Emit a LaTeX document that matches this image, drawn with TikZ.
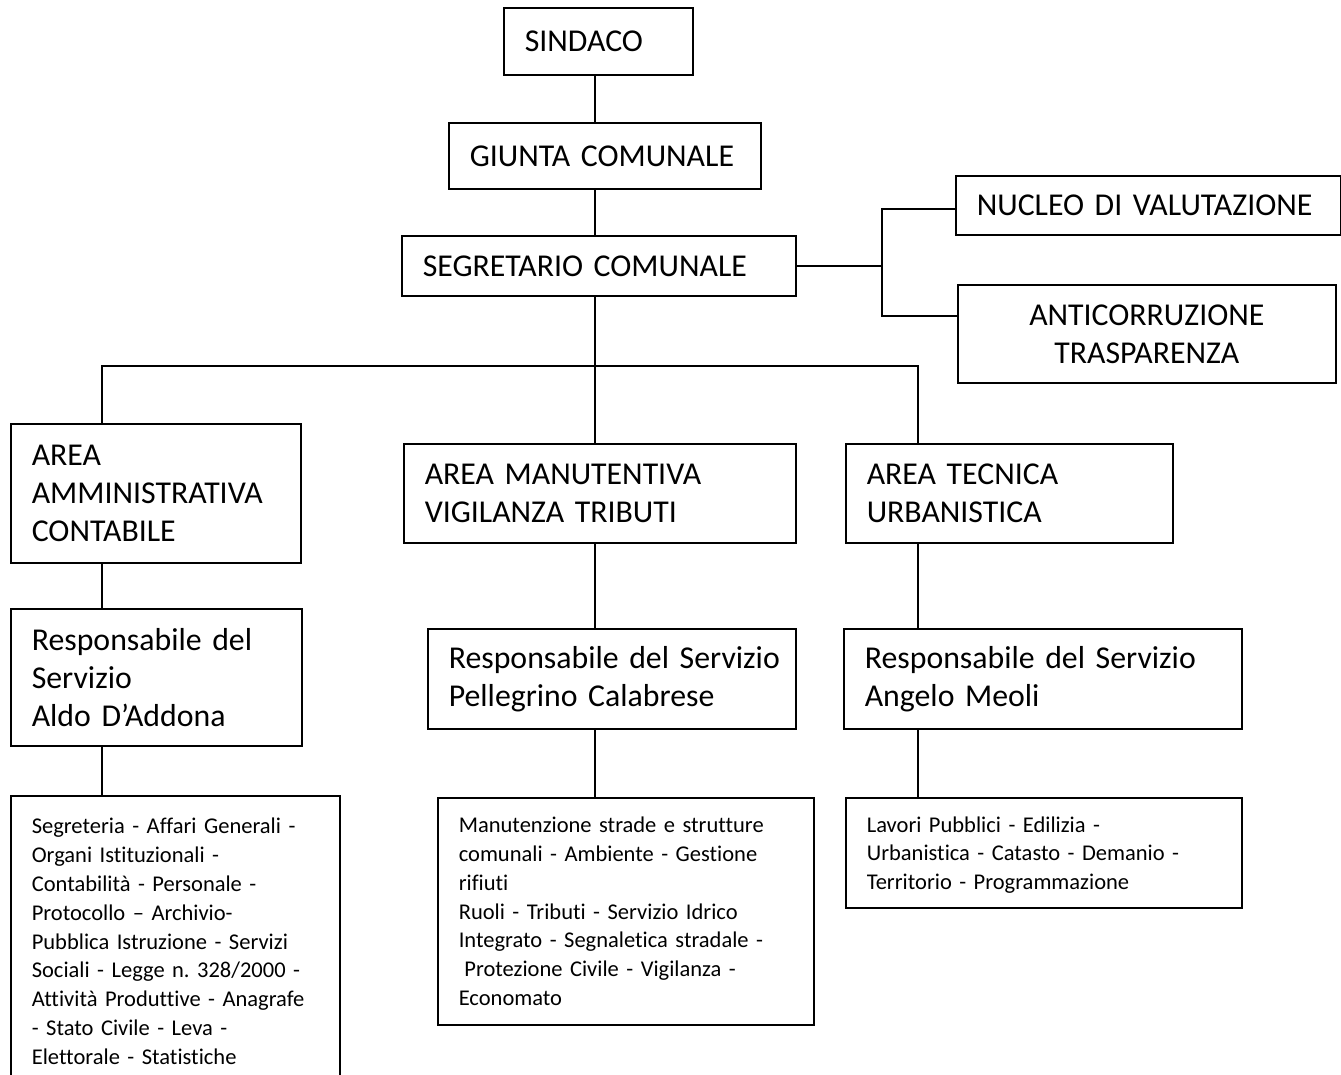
\documentclass[tikz,border=0pt]{standalone}
\usepackage{fontspec}
\setmainfont{Carlito}[Ligatures=NoCommon]
\usetikzlibrary{positioning}
\frenchspacing

\begin{document}
\begin{tikzpicture}[
                x = 1pt, y = -1pt, % one unit per pixel, y going down
                line width = 1.6pt % line style
            ]

            \tikzstyle{box}=[
            draw = black,
            rectangle,
            anchor = north west,
            align = left,
            inner xsep = 21pt,
            inner ysep = 0pt,
            font = \fontsize{31.8}{38}\selectfont
            ]
            \tikzstyle{small}=[
            box,
            font = \fontsize{22.5}{28.8}\selectfont
            ]

            \useasboundingbox (0,0) rectangle (1341,1074);

            \coordinate (spine) at (595,0);
            \coordinate (colA) at (102,0);
            \coordinate (colC) at (918,0);
            \coordinate (bus) at (595,366);
            \coordinate (forkup) at (882,209);
            \coordinate (forkdown) at (882,316);

            \node[box, text width=147pt, minimum height=67pt] (sindaco) at (503,7) {SINDACO};
            \node[box, text width=270pt, minimum height=66pt] (giunta) at (448,122) {GIUNTA COMUNALE};
            \node[box, text width=352pt, minimum height=60pt] (segretario) at (401,235) {SEGRETARIO COMUNALE};
            \node[box, text width=343pt, minimum height=59pt] (nucleo) at (955,175) {NUCLEO DI VALUTAZIONE};
            \node[box, align=center, text width=336pt, minimum height=98pt] (anticorr) at (957,284) {ANTICORRUZIONE\\TRASPARENZA};

            \node[box, text width=248pt, minimum height=139pt] (areaamm) at (10,423) {AREA\\AMMINISTRATIVA\\CONTABILE};
            \node[box, text width=350pt, minimum height=99pt] (areaman) at (403,443) {AREA MANUTENTIVA\\VIGILANZA TRIBUTI};
            \node[box, text width=285pt, minimum height=99pt] (areatec) at (845,443) {AREA TECNICA\\URBANISTICA};

            \node[box, text width=249pt, minimum height=137pt] (respamm) at (10,608) {Responsabile del\\Servizio\\Aldo D’Addona};
            \node[box, text width=326pt, minimum height=100pt] (respman) at (427,628) {\mbox{Responsabile del Servizio}\\Pellegrino Calabrese};
            \node[box, text width=356pt, minimum height=100pt] (resptec) at (843,628) {Responsabile del Servizio\\Angelo Meoli};

            \node[small, text width=287pt, minimum height=291pt] (compamm) at (10,795) {Segreteria - Affari Generali -\\Organi Istituzionali -\\Contabilità - Personale -\\Protocollo – Archivio-\\Pubblica Istruzione - Servizi\\Sociali - Legge n. 328/2000 -\\Attività Produttive - Anagrafe\\- Stato Civile - Leva -\\Elettorale - Statistiche};
            \node[small, text width=334pt, minimum height=227pt] (compman) at (437,797) {Manutenzione strade e strutture\\comunali - Ambiente - Gestione\\rifiuti\\Ruoli - Tributi - Servizio Idrico\\Integrato - Segnaletica stradale -\\\hspace*{0.25em}Protezione Civile - Vigilanza -\\Economato};
            \node[small, text width=354pt, minimum height=110pt] (comptec) at (845,797) {\rule{0pt}{20pt}Lavori Pubblici - Edilizia -\\Urbanistica - Catasto - Demanio -\\Territorio - Programmazione};

            % top of the tree
            \draw (spine |- sindaco.south) -- (spine |- giunta.north);
            \draw (spine |- giunta.south) -- (spine |- segretario.north);
            \draw (segretario.east) -- (segretario.east -| forkup);
            \draw (forkup -| nucleo.west) -- (forkup) -- (forkdown) -- (forkdown -| anticorr.west);

            % the three areas
            \draw (spine |- segretario.south) -- (spine |- areaman.north);
            \draw (colA |- areaamm.north) -- (colA |- bus) -- (colC |- bus) -- (colC |- areatec.north);

            \foreach \up/\down/\col in {areaamm/respamm/colA, respamm/compamm/colA,
                                        areaman/respman/spine, respman/compman/spine,
                                        areatec/resptec/colC, resptec/comptec/colC}
                \draw (\col |- \up.south) -- (\col |- \down.north);
        \end{tikzpicture}
\end{document}
